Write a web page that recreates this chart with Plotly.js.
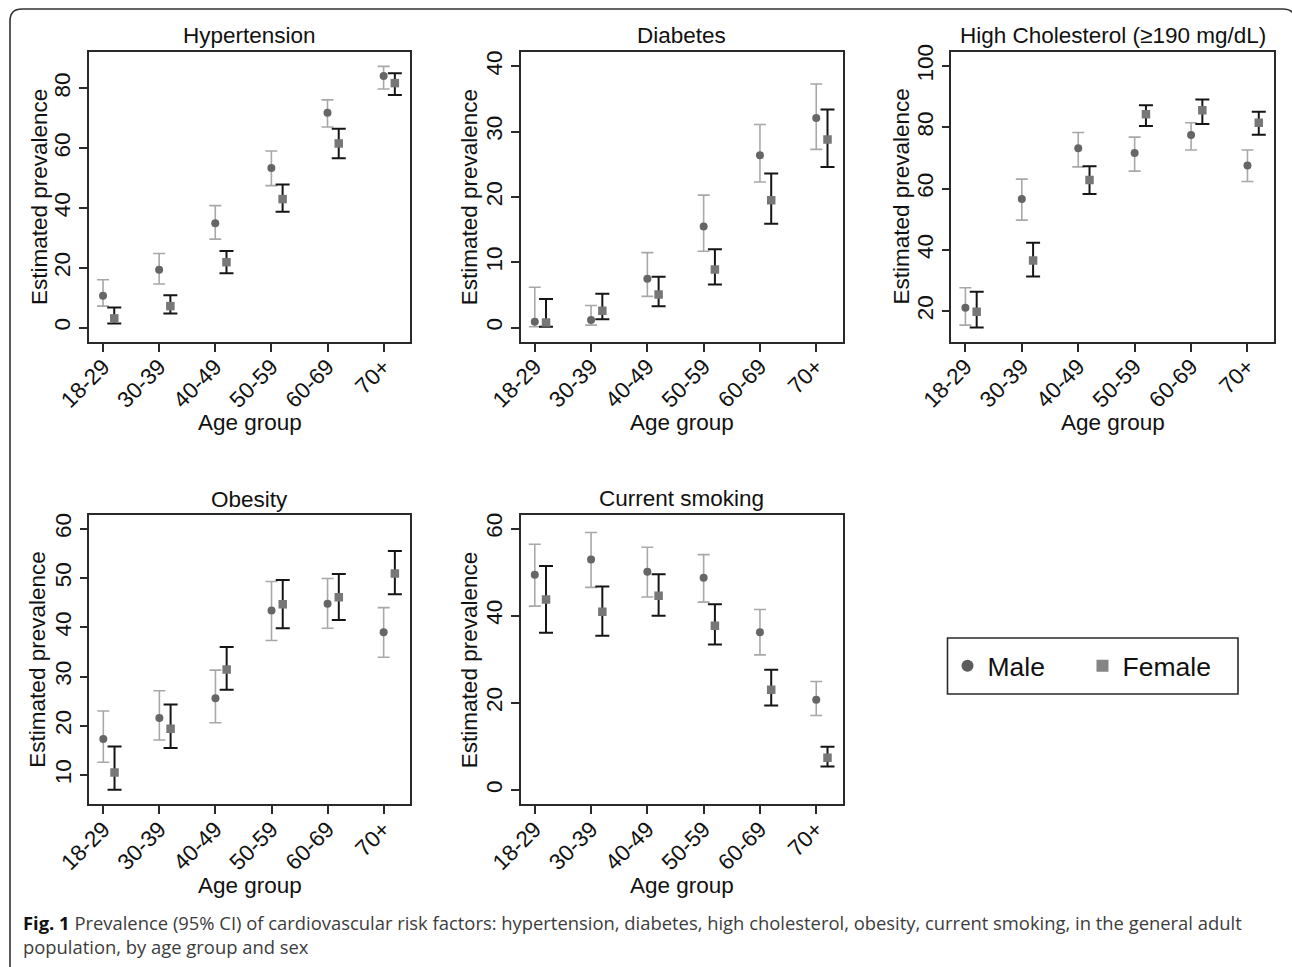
<!DOCTYPE html>
<html>
<head>
<meta charset="utf-8">
<script src="https://cdn.plot.ly/plotly-3.0.1.min.js"></script>
<style>
  html, body { margin: 0; padding: 0; background: #ffffff; }
  #chart { width: 1292px; height: 967px; }
</style>
</head>
<body>
<div id="chart"></div>
<script>
// ---------------- DATA ----------------
const ageGroups = ['18-29', '30-39', '40-49', '50-59', '60-69', '70+'];
const panelTitles = ['Hypertension', 'Diabetes', 'High Cholesterol (\u2265190 mg/dL)', 'Obesity', 'Current smoking'];
const sexLabels = ['Male', 'Female'];

// Hypertension
const hyperMale     = [10.7, 19.4, 34.9, 53.4, 71.9, 84.2];
const hyperMaleLo   = [7.2, 14.6, 29.6, 47.5, 67.1, 79.8];
const hyperMaleHi   = [16.0, 24.8, 40.8, 59.1, 76.2, 87.4];
const hyperFemale   = [3.1, 7.2, 21.9, 43.0, 61.6, 81.8];
const hyperFemaleLo = [1.4, 4.7, 18.2, 38.8, 56.7, 77.8];
const hyperFemaleHi = [6.7, 10.8, 25.6, 47.9, 66.5, 85.1];

// Diabetes
const diabMale     = [0.9, 1.2, 7.5, 15.5, 26.4, 32.1];
const diabMaleLo   = [0.15, 0.4, 4.8, 11.7, 22.3, 27.3];
const diabMaleHi   = [6.2, 3.4, 11.5, 20.3, 31.1, 37.3];
const diabFemale   = [0.8, 2.6, 5.1, 8.9, 19.5, 28.8];
const diabFemaleLo = [0.15, 1.3, 3.3, 6.6, 15.9, 24.6];
const diabFemaleHi = [4.4, 5.2, 7.8, 12.0, 23.6, 33.4];

// High cholesterol
const cholMale     = [21.1, 56.6, 73.2, 71.6, 77.5, 67.5];
const cholMaleLo   = [15.4, 49.7, 67.1, 65.7, 72.6, 62.3];
const cholMaleHi   = [27.6, 63.1, 78.3, 76.8, 81.5, 72.6];
const cholFemale   = [19.8, 36.5, 62.8, 84.3, 85.6, 81.5];
const cholFemaleLo = [14.6, 31.3, 58.2, 80.4, 81.1, 77.6];
const cholFemaleHi = [26.3, 42.3, 67.3, 87.2, 89.1, 85.1];

// Obesity
const obesMale     = [17.3, 21.6, 25.6, 43.4, 44.8, 39.0];
const obesMaleLo   = [12.6, 17.1, 20.6, 37.3, 39.8, 33.9];
const obesMaleHi   = [23.0, 27.1, 31.3, 49.3, 49.9, 44.0];
const obesFemale   = [10.5, 19.4, 31.4, 44.7, 46.1, 50.9];
const obesFemaleLo = [7.0, 15.5, 27.3, 39.8, 41.5, 46.7];
const obesFemaleHi = [15.8, 24.3, 36.0, 49.6, 50.8, 55.5];

// Current smoking
const smokMale     = [49.4, 52.9, 50.1, 48.7, 36.2, 20.7];
const smokMaleLo   = [42.2, 46.5, 44.3, 43.1, 31.0, 17.1];
const smokMaleHi   = [56.4, 59.1, 55.7, 54.0, 41.4, 24.9];
const smokFemale   = [43.7, 40.9, 44.6, 37.7, 23.0, 7.4];
const smokFemaleLo = [36.1, 35.4, 40.0, 33.4, 19.4, 5.4];
const smokFemaleHi = [51.4, 46.7, 49.5, 42.6, 27.6, 9.9];

const captionLine1 = 'Prevalence (95% CI) of cardiovascular risk factors: hypertension, diabetes, high cholesterol, obesity, current smoking, in the general adult';
const captionLine2 = 'population, by age group and sex';
const figLabel = 'Fig. 1';
const yTitle = 'Estimated prevalence';
const xTitle = 'Age group';

// ---------------- LAYOUT HELPERS ----------------
const W = 1292, H = 967;
const px = v => v / W;
const py = v => 1 - v / H;

const panels = [
  { male: [hyperMale, hyperMaleLo, hyperMaleHi], female: [hyperFemale, hyperFemaleLo, hyperFemaleHi],
    box: [89, 410, 52, 342], yrange: [-4.8, 92.2], dtick: 20, titleY: 35, yTitleX: 39, xTitleY: 422 },
  { male: [diabMale, diabMaleLo, diabMaleHi], female: [diabFemale, diabFemaleLo, diabFemaleHi],
    box: [520.7, 842.7, 52, 341.7], yrange: [-2.14, 42.2], dtick: 10, titleY: 35, yTitleX: 469.5, xTitleY: 422 },
  { male: [cholMale, cholMaleLo, cholMaleHi], female: [cholFemale, cholFemaleLo, cholFemaleHi],
    box: [951.3, 1274, 52.3, 341.7], yrange: [10.0, 104.5], dtick: 20, titleY: 35, yTitleX: 900.5, xTitleY: 422 },
  { male: [obesMale, obesMaleLo, obesMaleHi], female: [obesFemale, obesFemaleLo, obesFemaleHi],
    box: [89.3, 410, 515, 804.3], yrange: [4.05, 62.8], dtick: 10, titleY: 499, yTitleX: 38, xTitleY: 885 },
  { male: [smokMale, smokMaleLo, smokMaleHi], female: [smokFemale, smokFemaleLo, smokFemaleHi],
    box: [520.7, 842.7, 515, 804.3], yrange: [-3.28, 63.1], dtick: 20, titleY: 498, yTitleX: 469.5, xTitleY: 885 }
];

const FONT = '"Liberation Sans", Arial, Helvetica, sans-serif';
const femaleOffset = 0.2;
const catIdx = ageGroups.map((_, i) => i);

const maleStyle = {
  marker: { symbol: 'circle', size: 8, color: '#666666' },
  err: { color: '#a8a8a8', thickness: 1.6, width: 6 }
};
const femaleStyle = {
  marker: { symbol: 'square', size: 8.5, color: '#777777' },
  err: { color: '#151515', thickness: 2, width: 7 }
};

// legend frame (pixels)
const legBox = { l: 947.5, r: 1238, t: 638, b: 694 };

const traces = [];
const layout = {
  width: W, height: H,
  margin: { l: 0, r: 0, t: 0, b: 0 },
  paper_bgcolor: '#ffffff',
  plot_bgcolor: '#ffffff',
  font: { family: FONT, color: '#111' },
  showlegend: true,
  legend: {
    orientation: 'h',
    x: px(legBox.l), y: py((legBox.t + legBox.b) / 2), xanchor: 'left', yanchor: 'middle',
    borderwidth: 0, bgcolor: 'rgba(0,0,0,0)',
    font: { family: FONT, size: 26.5, color: '#111' },
    entrywidth: 90,
    itemclick: false, itemdoubleclick: false
  },
  annotations: [],
  shapes: []
};

function errObj(vals, lo, hi, st) {
  return {
    type: 'data', symmetric: false,
    array: vals.map((v, i) => hi[i] - v),
    arrayminus: vals.map((v, i) => v - lo[i]),
    color: st.err.color, thickness: st.err.thickness, width: st.err.width, visible: true
  };
}

const titleFont = { family: FONT, size: 22.5, color: '#111' };

panels.forEach((p, k) => {
  const n = k + 1;
  const xa = n === 1 ? 'x' : 'x' + n;
  const ya = n === 1 ? 'y' : 'y' + n;
  const xKey = n === 1 ? 'xaxis' : 'xaxis' + n;
  const yKey = n === 1 ? 'yaxis' : 'yaxis' + n;

  traces.push({
    type: 'scatter', mode: 'markers', name: sexLabels[0], showlegend: false,
    x: catIdx, y: p.male[0], xaxis: xa, yaxis: ya,
    marker: maleStyle.marker,
    error_y: errObj(p.male[0], p.male[1], p.male[2], maleStyle),
    hoverinfo: 'y'
  });
  traces.push({
    type: 'scatter', mode: 'markers', name: sexLabels[1], showlegend: false,
    x: catIdx.map(i => i + femaleOffset), y: p.female[0], xaxis: xa, yaxis: ya,
    marker: femaleStyle.marker,
    error_y: errObj(p.female[0], p.female[1], p.female[2], femaleStyle),
    hoverinfo: 'y'
  });

  const axCommon = {
    showline: true, mirror: true, linecolor: '#2a2a2a', linewidth: 1.6,
    ticks: 'outside', ticklen: 8, tickwidth: 1.5, tickcolor: '#2a2a2a',
    showgrid: false, zeroline: false, fixedrange: true,
    tickfont: { family: FONT, size: 22.5, color: '#111' }
  };
  layout[xKey] = Object.assign({}, axCommon, {
    domain: [px(p.box[0]), px(p.box[1])],
    anchor: ya,
    range: [-0.25, 5.47],
    tickmode: 'array', tickvals: catIdx, ticktext: ageGroups,
    tickangle: -45,
    ticklabelstandoff: -7
  });
  layout[yKey] = Object.assign({}, axCommon, {
    domain: [py(p.box[3]), py(p.box[2])],
    anchor: xa,
    range: p.yrange,
    tick0: 0, dtick: p.dtick,
    tickangle: -90,
    ticklabelstandoff: 0
  });

  const cx = (px(p.box[0]) + px(p.box[1])) / 2;
  const cy = (py(p.box[2]) + py(p.box[3])) / 2;
  layout.annotations.push({
    xref: 'paper', yref: 'paper', x: cx, y: py(p.titleY),
    xanchor: 'center', yanchor: 'middle', showarrow: false,
    text: panelTitles[k], font: titleFont
  });
  layout.annotations.push({
    xref: 'paper', yref: 'paper', x: cx, y: py(p.xTitleY),
    xanchor: 'center', yanchor: 'middle', showarrow: false,
    text: xTitle, font: titleFont
  });
  layout.annotations.push({
    xref: 'paper', yref: 'paper', x: px(p.yTitleX), y: cy,
    xanchor: 'center', yanchor: 'middle', showarrow: false, textangle: -90,
    text: yTitle, font: titleFont
  });
});

// legend-only entries
traces.push({
  type: 'scatter', mode: 'markers', name: sexLabels[0], x: [null], y: [null],
  xaxis: 'x', yaxis: 'y', marker: { symbol: 'circle', size: 12, color: '#5c5c5c' }, hoverinfo: 'skip'
});
traces.push({
  type: 'scatter', mode: 'markers', name: sexLabels[1], x: [null], y: [null],
  xaxis: 'x', yaxis: 'y', marker: { symbol: 'square', size: 12, color: '#858585' }, hoverinfo: 'skip'
});

// legend frame
layout.shapes.push({
  type: 'rect', xref: 'paper', yref: 'paper',
  x0: px(legBox.l), x1: px(legBox.r), y0: py(legBox.b), y1: py(legBox.t),
  line: { color: '#2a2a2a', width: 1.6 }, fillcolor: 'rgba(0,0,0,0)', layer: 'above'
});

// caption
const CAPFONT = '"Open Sans", "Noto Sans", sans-serif';
layout.annotations.push({
  xref: 'paper', yref: 'paper', x: px(21), y: py(922), xanchor: 'left', yanchor: 'middle',
  showarrow: false, align: 'left',
  text: '<b><span style="color:#111">' + figLabel + '</span></b> ' + captionLine1,
  font: { family: CAPFONT, size: 18.4, color: '#3c3c3c' }
});
layout.annotations.push({
  xref: 'paper', yref: 'paper', x: px(21), y: py(946), xanchor: 'left', yanchor: 'middle',
  showarrow: false, align: 'left',
  text: captionLine2,
  font: { family: CAPFONT, size: 18.4, color: '#3c3c3c' }
});

// outer rounded frame (decoration); right edge lies just outside the picture
const fl = 10, fr = 1295, ft = 9, rad = 12, fb = 1000;
layout.shapes.push({
  type: 'path', xref: 'paper', yref: 'paper', layer: 'below',
  path: 'M ' + px(fl) + ',' + py(fb) +
        ' L ' + px(fl) + ',' + py(ft + rad) +
        ' Q ' + px(fl) + ',' + py(ft) + ' ' + px(fl + rad) + ',' + py(ft) +
        ' L ' + px(fr - rad) + ',' + py(ft) +
        ' Q ' + px(fr) + ',' + py(ft) + ' ' + px(fr) + ',' + py(ft + rad) +
        ' L ' + px(fr) + ',' + py(fb),
  line: { color: '#333', width: 1.6 }
});

Plotly.newPlot('chart', traces, layout, { displayModeBar: false });
</script>
</body>
</html>
